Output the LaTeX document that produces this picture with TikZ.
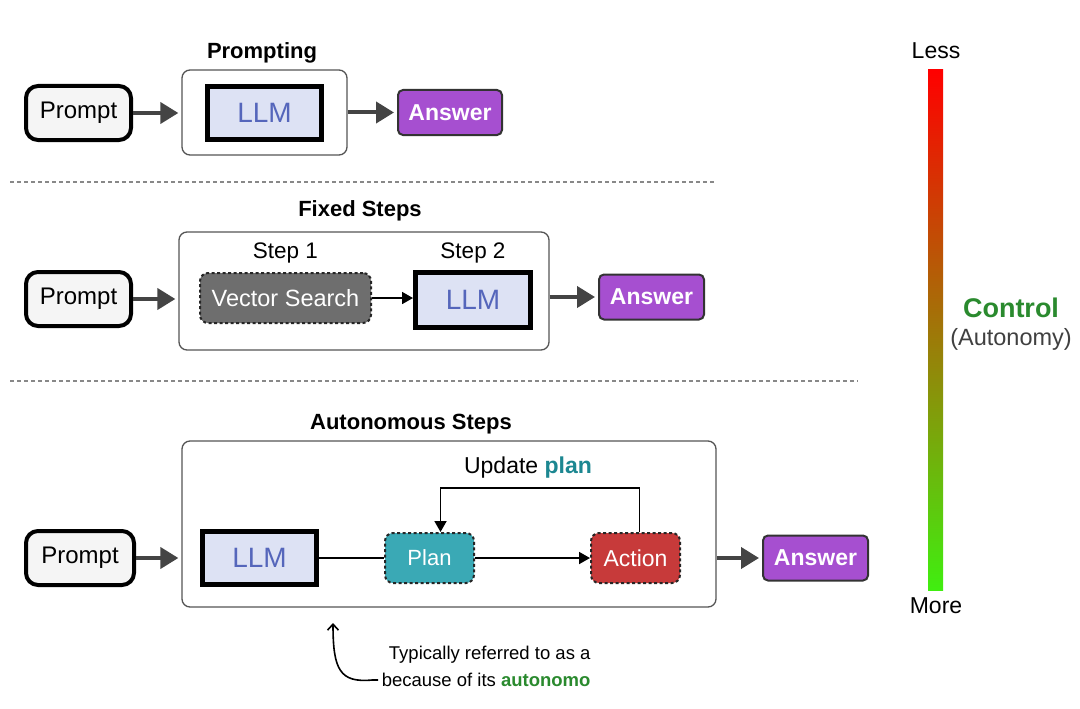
\documentclass[tikz,border=0pt]{standalone}
\usepackage{fontspec}
\setmainfont{Liberation Sans}
\usetikzlibrary{arrows.meta,calc}
\definecolor{llmfill}{HTML}{DDE2F4}
\definecolor{llmtext}{HTML}{5566BB}
\definecolor{ansfill}{HTML}{A64FD0}
\definecolor{vsfill}{HTML}{6E6E6E}
\definecolor{planfill}{HTML}{3AA9B5}
\definecolor{actfill}{HTML}{C73A3A}
\definecolor{plantext}{HTML}{1C8791}
\definecolor{ctrlgreen}{HTML}{2A8A2E}
\definecolor{arrowgray}{HTML}{444444}
\definecolor{promptfill}{HTML}{F5F5F5}
\definecolor{framegray}{HTML}{555555}
\definecolor{sepgray}{HTML}{888888}
\definecolor{midbar}{HTML}{A87400}
\definecolor{botbar}{HTML}{40EE10}
\newcommand\fsz[1]{\fontsize{#1}{#1}\selectfont}
\begin{document}
\begin{tikzpicture}[x=1pt,y=-1pt,
  promptbox/.style={draw=black, line width=4pt, rounded corners=12pt, fill=promptfill, minimum width=105pt, minimum height=54pt, font=\fsz{24}, inner sep=0pt},
  llmbox/.style={draw=black, line width=5pt, fill=llmfill, text=llmtext, minimum width=114pt, minimum height=53pt, font=\fsz{28}, inner sep=0pt},
  ansbox/.style={draw=black!80, line width=2pt, rounded corners=5pt, fill=ansfill, text=white, minimum width=104pt, minimum height=45pt, font=\bfseries\fsz{23}, inner sep=0pt},
  container/.style={draw=framegray, line width=1.3pt, rounded corners=8pt, fill=white},
  dashbox/.style={draw=black!85, line width=2pt, dash pattern=on 3pt off 2.5pt, rounded corners=8pt, text=white, inner sep=0pt},
  title/.style={font=\bfseries\fsz{22}},
  lbl/.style={font=\fsz{22.5}},
  bigarrow/.style={draw=arrowgray, line width=4pt, -{Triangle[length=18pt,width=21pt]}, shorten >=3pt},
  thinarrow/.style={draw=black, line width=1.8pt, -{Triangle[length=11pt,width=12pt]}},
  sep/.style={draw=sepgray, line width=1.6pt, dash pattern=on 3.5pt off 3.5pt}
]
\useasboundingbox (0,0) rectangle (1080,709);
\fill[white] (0,0) rectangle (1080,709);

% ---------- Section 1: Prompting
\node[title] (t1) at (262,53) {Prompting};
\node[container, minimum width=165pt, minimum height=85pt] (c1) at (264.5,112.5) {};
\node[promptbox] (p1) at (78.5,113) {Prompt};
\node[llmbox] (l1) at (264.5,113) {LLM};
\node[ansbox] (a1) at (450,112.5) {Answer};
\draw[bigarrow] (p1.east) -- (p1.east -| c1.west);
\draw[bigarrow] (c1.east |- a1.west) -- (a1.west);

\coordinate (s1a) at (10,182);
\coordinate (s1b) at (716,182);
\draw[sep] (s1a) -- (s1b);

% ---------- Section 2: Fixed Steps
\node[title] (t2) at (360,211) {Fixed Steps};
\node[container, minimum width=370pt, minimum height=118pt] (c2) at (364,291) {};
\node[promptbox] (p2) at (78.5,299) {Prompt};
\node[lbl] (st1) at (285.5,253) {Step 1};
\node[lbl] (st2) at (473,253) {Step 2};
\node[dashbox, fill=vsfill, minimum width=171pt, minimum height=50pt, font=\fsz{23.5}] (vs) at (285.5,298) {Vector Search};
\node[llmbox, minimum width=115pt, minimum height=55pt] (l2) at (473,300) {LLM};
\node[ansbox, minimum width=105pt] (a2) at (651.5,297) {Answer};
\draw[bigarrow] (p2.east) -- (p2.east -| c2.west);
\draw[thinarrow] (vs.east) -- (vs.east -| l2.west);
\draw[bigarrow] (c2.east |- a2.west) -- (a2.west);

\coordinate (s2a) at (10,381);
\coordinate (s2b) at (858,381);
\draw[sep] (s2a) -- (s2b);

% ---------- Section 3: Autonomous Steps
\node[title] (t3) at (411,424) {Autonomous Steps};
\node[container, minimum width=534pt, minimum height=166pt] (c3) at (449,524) {};
\node[promptbox, minimum width=108pt] (p3) at (80,558) {Prompt};
\node[llmbox] (l3) at (259.5,558) {LLM};
\node[dashbox, fill=planfill, minimum width=89pt, minimum height=50pt, font=\fsz{22}] (pl) at (429.5,558) {Plan};
\node[dashbox, fill=actfill, minimum width=89pt, minimum height=50pt, font=\fsz{23}] (ac) at (635.5,558) {Action};
\node[ansbox, minimum width=105pt] (a3) at (815.5,558) {Answer};
\node[font=\fsz{23}] (up) at (528,468) {Update \textbf{\color{plantext}plan}};
\draw[bigarrow] (p3.east) -- (p3.east -| c3.west);
\draw[black, line width=1.6pt] (l3.east) -- (pl.west);
\draw[thinarrow] (pl.east) -- (ac.west);
\draw[thinarrow] ([xshift=4pt]ac.north) -- ++(0,-44) -| ([xshift=11pt]pl.north);
\draw[bigarrow] (c3.east |- a3.west) -- (a3.west);

% ---------- annotation
\node[font=\fsz{18.5}, anchor=east] (n1) at (594,655) {Typically referred to as a};
\node[font=\fsz{18.5}, anchor=east] (n2) at (594,680) {because of its \textbf{\color{ctrlgreen}autonomo}};
\coordinate (tip) at (333,623);
\draw[black, line width=1.6pt, -{Straight Barb[length=6pt,width=11pt]}] (n2.west) -- ++(-6,0) .. controls (340,683) and (333,670) .. (tip);

% ---------- control bar
\shade[top color=red, middle color=midbar, bottom color=botbar] (928,70) rectangle (943,590);
\node[font=\fsz{23}] (less) at (936,51) {Less};
\node[font=\fsz{23}] (more) at (936,606) {More};
\node[font=\bfseries\fsz{27}, text=ctrlgreen] (ctrl) at (1011,308) {Control};
\node[font=\fsz{23.5}, text=black!75] (auto) at (1011,339) {(Autonomy)};
\end{tikzpicture}
\end{document}
